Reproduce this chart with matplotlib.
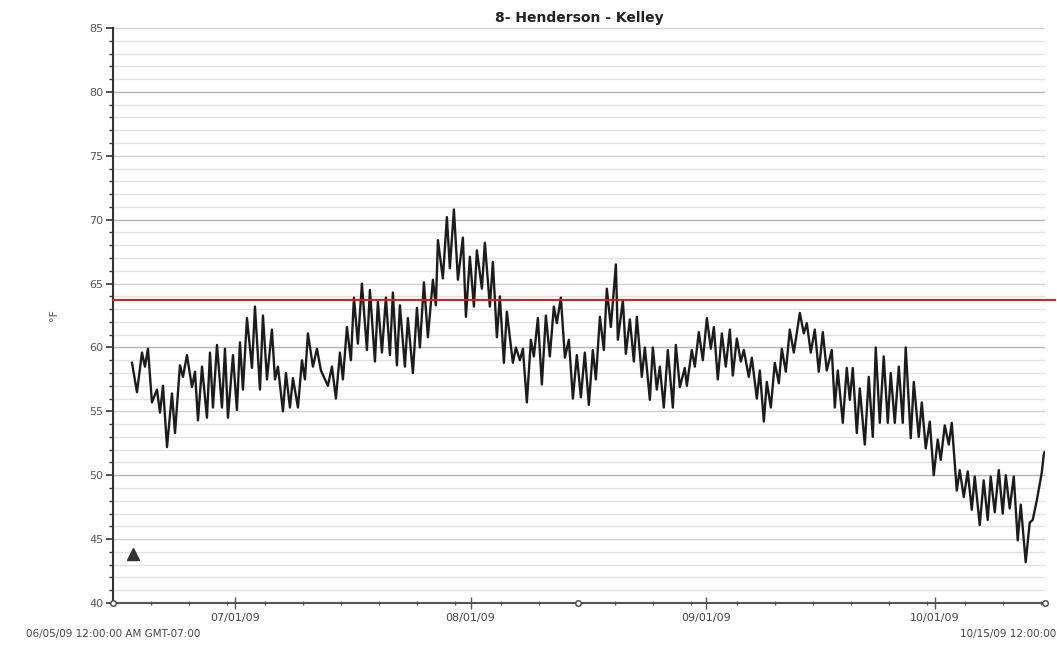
import numpy as np
import pandas as pd
import matplotlib
matplotlib.use("Agg")
import matplotlib.pyplot as plt
import matplotlib.dates as mdates
import matplotlib.transforms as mtrans

# chart window: 06/15/09 00:00 to 10/15/09 12:00
start = pd.Timestamp("2009-06-15 00:00")
end = pd.Timestamp("2009-10-15 12:00")

# temperature trace (daily highs / lows), days after start and deg F
day_offset = [
    2.50, 3.15, 3.81, 4.20, 4.60, 5.12, 5.78, 6.18, 6.57, 7.10,
    7.75, 8.15, 8.80, 9.20, 9.72, 10.38, 10.78, 11.17, 11.70, 12.35,
    12.75, 13.14, 13.67, 14.32, 14.72, 15.11, 15.77, 16.29, 16.69, 17.08,
    17.61, 18.27, 18.66, 19.32, 19.71, 20.24, 20.89, 21.29, 21.68, 22.34,
    22.73, 23.26, 23.65, 24.31, 24.84, 25.23, 25.62, 26.28, 26.81, 27.33,
    28.25, 28.78, 29.30, 29.83, 30.22, 30.75, 31.27, 31.67, 32.19, 32.72,
    33.38, 33.77, 34.43, 34.82, 35.35, 35.87, 36.40, 36.79, 37.32, 37.71,
    38.37, 38.76, 39.42, 39.95, 40.34, 40.87, 41.39, 42.05, 42.44, 42.71,
    43.36, 43.89, 44.28, 44.81, 45.34, 45.99, 46.39, 46.91, 47.44, 47.83,
    48.49, 48.88, 49.54, 49.93, 50.46, 50.85, 51.38, 51.77, 52.56, 52.96,
    53.48, 53.88, 54.40, 54.93, 55.32, 55.85, 56.37, 56.90, 57.42, 57.95,
    58.34, 58.87, 59.40, 59.92, 60.45, 60.97, 61.50, 62.02, 62.55, 63.07,
    63.47, 64.00, 64.52, 64.91, 65.44, 66.10, 66.36, 67.02, 67.41, 67.94,
    68.46, 68.86, 69.51, 69.91, 70.57, 70.96, 71.48, 71.88, 72.40, 72.93,
    73.59, 73.98, 74.51, 75.16, 75.43, 76.08, 76.48, 77.00, 77.53, 78.06,
    78.58, 78.98, 79.50, 80.03, 80.55, 81.08, 81.47, 82.00, 82.52, 82.92,
    83.57, 83.97, 84.63, 85.02, 85.55, 85.94, 86.47, 86.99, 87.52, 87.91,
    88.44, 88.96, 89.49, 90.28, 90.80, 91.20, 91.72, 92.25, 92.77, 93.30,
    93.82, 94.48, 94.88, 95.27, 95.93, 96.45, 96.85, 97.24, 97.77, 98.16,
    98.82, 99.34, 99.87, 100.26, 100.79, 101.31, 101.84, 102.23, 102.76, 103.29,
    103.81, 104.20, 104.86, 105.26, 105.91, 106.31, 106.83, 107.36, 107.88, 108.41,
    108.80, 109.33, 109.86, 110.25, 110.91, 111.30, 111.83, 112.35, 112.88, 113.27,
    113.93, 114.45, 114.98, 115.37, 115.90, 116.43, 116.95, 117.35, 117.87, 118.40,
    118.92, 119.32, 119.97, 120.50, 120.89, 121.42, 122.08, 122.34, 122.45,
]
temp_f = [
    58.8, 56.5, 59.6, 58.5, 59.9, 55.7, 56.7, 54.9, 57.0, 52.2,
    56.4, 53.3, 58.6, 57.7, 59.4, 56.9, 58.1, 54.3, 58.5, 54.5,
    59.6, 55.3, 60.2, 55.3, 59.9, 54.5, 59.4, 55.1, 60.4, 56.7,
    62.3, 58.4, 63.2, 56.7, 62.5, 57.5, 61.4, 57.5, 58.5, 55.0,
    58.0, 55.3, 57.6, 55.3, 59.0, 57.5, 61.1, 58.5, 59.9, 58.2,
    57.0, 58.5, 56.0, 59.6, 57.5, 61.6, 59.0, 63.9, 60.3, 65.0,
    59.8, 64.5, 58.9, 63.6, 59.6, 63.9, 59.4, 64.3, 58.6, 63.3,
    58.5, 62.3, 58.0, 63.1, 60.0, 65.1, 60.8, 65.3, 63.3, 68.4,
    65.4, 70.2, 66.2, 70.8, 65.3, 68.6, 62.4, 67.1, 63.2, 67.6,
    64.6, 68.2, 63.2, 66.7, 60.8, 64.0, 58.8, 62.8, 58.8, 60.0,
    59.0, 59.9, 55.7, 60.6, 59.3, 62.3, 57.1, 62.5, 59.3, 63.2,
    61.9, 63.9, 59.2, 60.6, 56.0, 59.4, 56.1, 59.6, 55.5, 59.8,
    57.5, 62.4, 59.8, 64.6, 61.6, 66.5, 60.6, 63.7, 59.5, 62.2,
    58.9, 62.4, 57.7, 60.0, 55.9, 60.0, 56.7, 58.5, 55.3, 59.8,
    55.3, 60.2, 56.9, 58.4, 57.0, 59.8, 58.5, 61.2, 59.0, 62.3,
    59.9, 61.6, 57.5, 61.1, 58.5, 61.4, 57.8, 60.7, 58.9, 59.8,
    57.7, 59.2, 56.0, 58.2, 54.2, 57.3, 55.3, 58.8, 57.2, 59.9,
    58.1, 61.4, 59.6, 62.7, 61.1, 61.9, 59.6, 61.4, 58.1, 61.2,
    58.2, 59.8, 55.3, 58.2, 54.1, 58.4, 55.9, 58.4, 53.3, 56.8,
    52.4, 57.7, 53.0, 60.0, 54.1, 59.3, 54.1, 58.0, 54.1, 58.5,
    54.1, 60.0, 52.9, 57.3, 53.0, 55.7, 52.1, 54.2, 50.0, 52.8,
    51.2, 53.9, 52.4, 54.1, 48.8, 50.4, 48.3, 50.3, 47.3, 49.9,
    46.1, 49.6, 46.5, 49.9, 47.1, 50.4, 47.0, 50.0, 47.4, 49.9,
    44.9, 47.7, 43.2, 46.3, 46.5, 48.0, 50.2, 51.6, 51.8,
]

threshold_f = 63.7
flag_day = 2.63
flag_temp = 43.8

month_ticks = ["2009-07-01", "2009-08-01", "2009-09-01", "2009-10-01"]
month_labels = ["07/01/09", "08/01/09", "09/01/09", "10/01/09"]
y_major = [40, 45, 50, 55, 60, 65, 70, 75, 80, 85]

times = start + pd.to_timedelta(day_offset, unit="D")

fig = plt.figure(figsize=(10.57, 6.48), dpi=100)
ax = fig.add_axes([0.1069, 0.0694, 0.9886 - 0.1069, 0.9568 - 0.0694])

# gridlines every degree, darker every 10
for v in range(40, 86):
    if v % 10 == 0:
        c = "#b4b4b4"
    elif v % 5 == 0:
        c = "#cfcfcf"
    else:
        c = "#e2e2e2"
    ax.axhline(v, color=c, lw=1.0, zorder=0)

ax.plot(times, temp_f, color="#1c1c1c", lw=1.7, zorder=3)

ax.axhline(threshold_f, xmin=0.0, xmax=1.011, color="#e8141a", lw=1.4,
           zorder=4, clip_on=False)

ax.plot(start + pd.Timedelta(days=flag_day), flag_temp, marker="^",
        color="#333333", ms=8, zorder=5)

ax.set_xlim(start, end)
ax.set_ylim(40, 85)

ax.set_xticks(pd.to_datetime(month_ticks))
ax.set_xticklabels(month_labels)
ax.xaxis.set_minor_locator(mdates.DayLocator(bymonthday=[5, 10, 15, 20, 25, 30]))
ax.set_yticks(y_major)
ax.set_yticks(range(40, 86), minor=True)

for s in ["top", "right"]:
    ax.spines[s].set_visible(False)
ax.spines["left"].set_color("#333333")
ax.spines["left"].set_linewidth(1.5)
ax.spines["bottom"].set_color("#555555")
ax.spines["bottom"].set_linewidth(1.5)

ax.tick_params(axis="y", which="major", length=5, width=1.2, colors="#333333",
               labelsize=8, labelcolor="#555555", pad=2)
ax.tick_params(axis="y", which="minor", length=3, width=1.0, colors="#333333")
ax.tick_params(axis="x", which="major", length=8, width=1.0, colors="#555555",
               labelsize=8, labelcolor="#444444", pad=3, direction="inout")
ax.tick_params(axis="x", which="minor", length=3, width=1.0, colors="#555555",
               direction="inout")

ax.set_ylabel("°F", fontsize=8, color="#555555", labelpad=22)
ax.set_title("8- Henderson - Kelley", fontsize=10, fontweight="bold",
             color="#222222", pad=4)

# range handles under the axis
trans = mtrans.blended_transform_factory(ax.transData, ax.transAxes)
handle_days = [0.0, 61.1, 122.5]
for d in handle_days:
    t = start + pd.Timedelta(days=d)
    ax.plot(t, 0, marker="o", ms=4, mfc="white", mec="#444444", mew=1,
            transform=trans, clip_on=False, zorder=6)

ax.text(0.0, -0.045, "06/05/09 12:00:00 AM GMT-07:00", transform=ax.transAxes,
        ha="center", va="top", fontsize=7.5, color="#444444")
ax.text(1.012, -0.045, "10/15/09 12:00:00", transform=ax.transAxes,
        ha="right", va="top", fontsize=7.5, color="#444444")

fig.savefig("out.png", dpi=100)
